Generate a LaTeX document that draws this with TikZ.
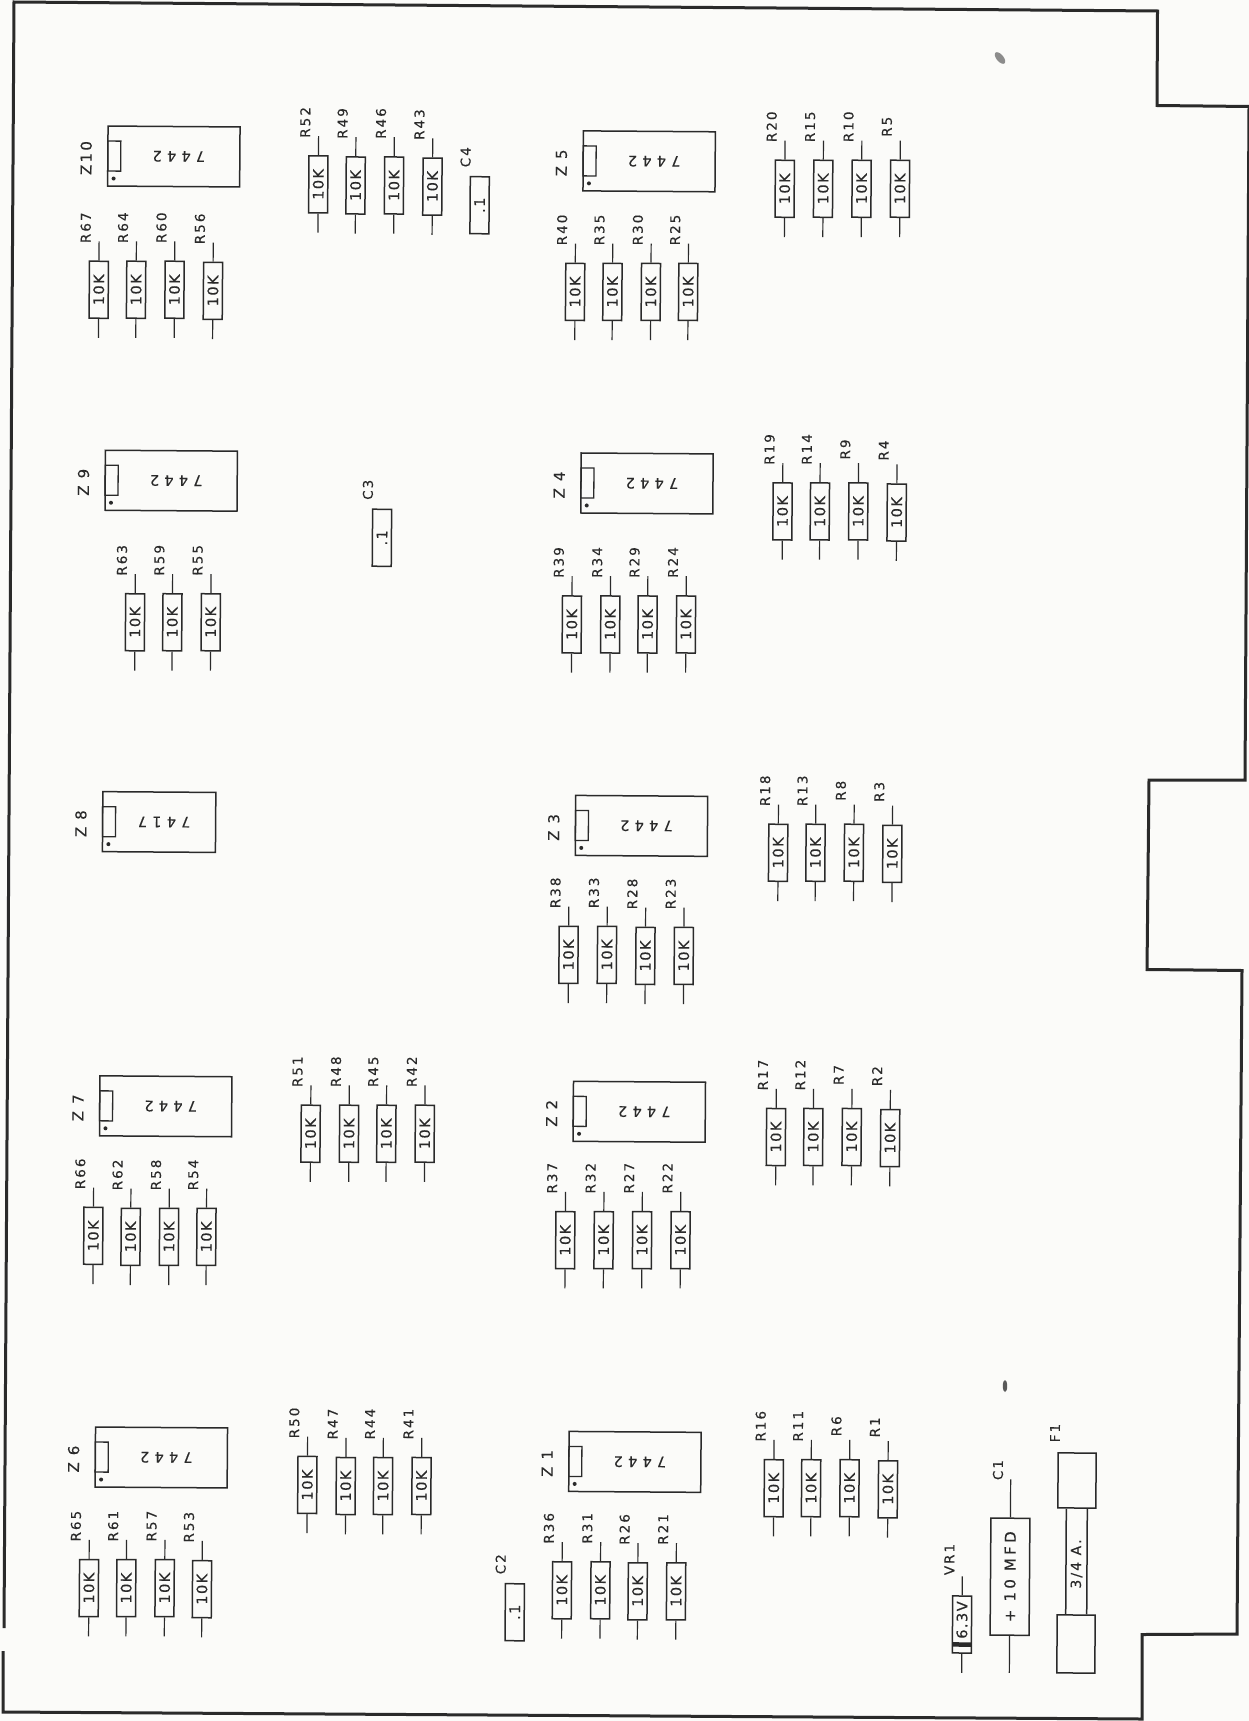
\documentclass[tikz,border=0pt]{standalone}
\usepackage{fontspec}
\setmainfont{DejaVu Sans}
\newfontfamily\lblfont[LetterSpace=15,FakeBold=0.25]{DejaVu Sans}
\newfontfamily\valfont[LetterSpace=10,FakeBold=0.25]{DejaVu Sans}
\newfontfamily\icfont[LetterSpace=36,FakeBold=0.25]{DejaVu Sans}
\newfontfamily\capfont[LetterSpace=22,FakeBold=0.25]{DejaVu Sans}
\definecolor{ink}{HTML}{2A2A2A}
\definecolor{paper}{HTML}{FBFBF9}
\def\ks{1.0975}
\tikzset{
  partbox/.style={draw=ink,line width=1.5pt,rectangle,inner sep=0pt,text=ink},
  resbody/.style={partbox,rotate=89.6,minimum width=57pt,minimum height=19pt,font={\valfont\fontsize{14.5}{16}\selectfont}},
  icbody/.style={partbox,rotate=-0.4,minimum height=60pt},
  icnotch/.style={partbox,rotate=-0.4,line width=1.3pt,anchor=west,minimum width=13pt,minimum height=30pt},
  icdot/.style={circle,fill=ink,inner sep=0pt,minimum size=4pt},
  ictext/.style={rotate=179.6,text=ink,inner sep=0pt,font={\icfont\fontsize{14.5}{16}\selectfont}},
  reflabel/.style={rotate=89.6,text=ink,inner sep=0pt,font={\lblfont\fontsize{13.5}{15}\selectfont}},
  leadline/.style={draw=ink,line width=1.2pt},
  edgeline/.style={draw=ink,line width=3pt,line join=miter},
  smudge/.style={fill=black!45,draw=none}
}
% resistor: name, x, y (in the shrunken view's units)
\newcommand{\ResPart}[3]{%
  \node[resbody] (#1) at ({#2*\ks},{#3*\ks}) {10K};
  \coordinate (#1t) at ([shift={(0.13,-19)}]#1.east);
  \coordinate (#1b) at ([shift={(-0.13,19)}]#1.west);
  \draw[leadline] (#1.east) -- (#1t);
  \draw[leadline] (#1.west) -- (#1b);
  \node[reflabel] (#1l) at ([shift={(-13,-62)}]#1.center) {#1};
}
% capacitor: name, x, y
\newcommand{\CapPart}[3]{%
  \node[resbody] (#1) at ({#2*\ks},{#3*\ks}) {.1};
  \node[reflabel] (#1l) at ([shift={(-14,-48)}]#1.center) {#1};
}
% IC: name, printed label, type, cx, cy, width
\newcommand{\ICPart}[6]{%
  \node[icbody,minimum width=#6pt] (#1) at ({#4*\ks},{#5*\ks}) {};
  \node[icnotch] (#1n) at (#1.west) {};
  \node[icdot] (#1d) at ([shift={(6.5,22.5)}]#1.west) {};
  \node[ictext] (#1t) at ([shift={(5,0)}]#1.center) {#3};
  \node[reflabel,font={\lblfont\fontsize{15}{16}\selectfont}] (#1l) at ([shift={(-21,2)}]#1.west) {#2};
}
\begin{document}
\begin{tikzpicture}[x=1pt,y=-1pt]
\useasboundingbox (0,0) rectangle (1249,1721);
\fill[paper] (0,0) rectangle (1249,1721);
% scan marks
\fill[smudge,rotate around={-50:(1000,58)}] (1000,58) ellipse (7 and 3.5);
\fill[smudge,fill=black!65] (1005,1386) ellipse (2.2 and 6);
% board outline
\draw[edgeline] (4,1628) -- (14,2) -- (1157.5,11) -- (1157,105.5) -- (1249,106.5) -- (1245,780)
  -- (1149,780) -- (1147,969.5) -- (1242,970.5) -- (1237,1634) -- (1142,1634.5) -- (1142,1719)
  -- (3,1712) -- (3,1651);
% ICs
\ICPart{Z10}{Z10}{7442}{158.4}{142.6}{132}
\ICPart{Z9}{Z 9}{7442}{156}{438}{132}
\ICPart{Z8}{Z 8}{7417}{145}{749}{113}
\ICPart{Z7}{Z 7}{7442}{151}{1008}{132}
\ICPart{Z6}{Z 6}{7442}{147}{1328}{132}
\ICPart{Z5}{Z 5}{7442}{591.5}{147}{132}
\ICPart{Z4}{Z 4}{7442}{589.5}{440.5}{132}
\ICPart{Z3}{Z 3}{7442}{584.5}{752.5}{132}
\ICPart{Z2}{Z 2}{7442}{582.5}{1013}{132}
\ICPart{Z1}{Z 1}{7442}{578.5}{1332}{132}
% resistors
\ResPart{R67}{90}{264}\ResPart{R64}{124}{264}\ResPart{R60}{159}{264}\ResPart{R56}{194}{265}
\ResPart{R52}{290}{168}\ResPart{R49}{324}{169}\ResPart{R46}{359}{169}\ResPart{R43}{394}{170}
\ResPart{R40}{524}{266}\ResPart{R35}{558}{266}\ResPart{R30}{593}{266}\ResPart{R25}{627}{266}
\ResPart{R20}{715}{172}\ResPart{R15}{750}{172}\ResPart{R10}{785}{172}\ResPart{R5}{820}{172}
\ResPart{R39}{521}{569}\ResPart{R34}{556}{569}\ResPart{R29}{590}{569}\ResPart{R24}{625}{569}
\ResPart{R19}{713}{466}\ResPart{R14}{747}{466}\ResPart{R9}{782}{466}\ResPart{R4}{817}{467}
\ResPart{R63}{123}{567}\ResPart{R59}{157}{567}\ResPart{R55}{192}{567}
\ResPart{R38}{518}{870}\ResPart{R33}{553}{870}\ResPart{R28}{588}{871}\ResPart{R23}{623}{871}
\ResPart{R18}{709}{777}\ResPart{R13}{743}{777}\ResPart{R8}{778}{777}\ResPart{R3}{813}{778}
\ResPart{R51}{283}{1033}\ResPart{R48}{318}{1033}\ResPart{R45}{352}{1033}\ResPart{R42}{387}{1033}
\ResPart{R66}{85}{1126}\ResPart{R62}{119}{1127}\ResPart{R58}{154}{1127}\ResPart{R54}{188}{1127}
\ResPart{R37}{515}{1130}\ResPart{R32}{550}{1130}\ResPart{R27}{585}{1130}\ResPart{R22}{620}{1130}
\ResPart{R17}{707}{1036}\ResPart{R12}{741}{1036}\ResPart{R7}{776}{1036}\ResPart{R2}{811}{1037}
\ResPart{R50}{280}{1353}\ResPart{R47}{315}{1354}\ResPart{R44}{349}{1354}\ResPart{R41}{384}{1354}
\ResPart{R65}{81}{1447}\ResPart{R61}{115}{1447}\ResPart{R57}{150}{1447}\ResPart{R53}{184}{1448}
\ResPart{R36}{512}{1449}\ResPart{R31}{547}{1449}\ResPart{R26}{581}{1450}\ResPart{R21}{616}{1450}
\ResPart{R16}{705}{1356}\ResPart{R11}{739}{1356}\ResPart{R6}{774}{1356}\ResPart{R1}{809}{1357}
% capacitors
\CapPart{C4}{437}{187}
\CapPart{C3}{348}{490}
\CapPart{C2}{469}{1469}
% zener diode
\node[resbody] (VR1) at (962,1624.5) {};
\node[reflabel,font={\valfont\fontsize{14.5}{16}\selectfont}] (VR1t) at ([shift={(0,-4.5)}]VR1.center) {6.3V};
\node[rectangle,fill=ink,rotate=-0.4,inner sep=0pt,minimum width=19pt,minimum height=4.5pt] (VR1band) at ([shift={(0,20)}]VR1.center) {};
\coordinate (VR1a) at ([shift={(0.13,-19)}]VR1.east);
\coordinate (VR1c) at ([shift={(-0.13,19)}]VR1.west);
\draw[leadline] (VR1.east) -- (VR1a);
\draw[leadline] (VR1.west) -- (VR1c);
\node[reflabel] (VR1l) at ([shift={(-12.6,-65)}]VR1.center) {VR1};
% electrolytic capacitor
\node[partbox,rotate=89.6,minimum width=117pt,minimum height=39pt,font={\capfont\fontsize{15}{16}\selectfont}] (C1) at (1010,1576.7) {+ 10 MFD};
\coordinate (C1a) at ([shift={(0.26,-38)}]C1.east);
\coordinate (C1c) at ([shift={(-0.26,37)}]C1.west);
\draw[leadline] (C1.east) -- (C1a);
\draw[leadline] (C1.west) -- (C1c);
\node[reflabel] (C1l) at (998,1470) {C1};
% fuse
\node[partbox,rotate=-0.4,minimum width=38pt,minimum height=55pt] (F1a) at (1077,1480.5) {};
\node[partbox,rotate=-0.4,minimum width=38pt,minimum height=58pt] (F1b) at (1076,1644) {};
\node[rotate=89.6,inner sep=0pt,text=ink,font={\lblfont\fontsize{14}{15}\selectfont}] (F1v) at (1076.5,1564) {3/4 A.};
\draw[partbox] ([xshift=-10.5pt]F1a.south) -- ([xshift=-10.5pt]F1b.north);
\draw[partbox] ([xshift=10.5pt]F1a.south) -- ([xshift=10.5pt]F1b.north);
\node[reflabel] (F1l) at (1055,1433) {F1};
\end{tikzpicture}
\end{document}
